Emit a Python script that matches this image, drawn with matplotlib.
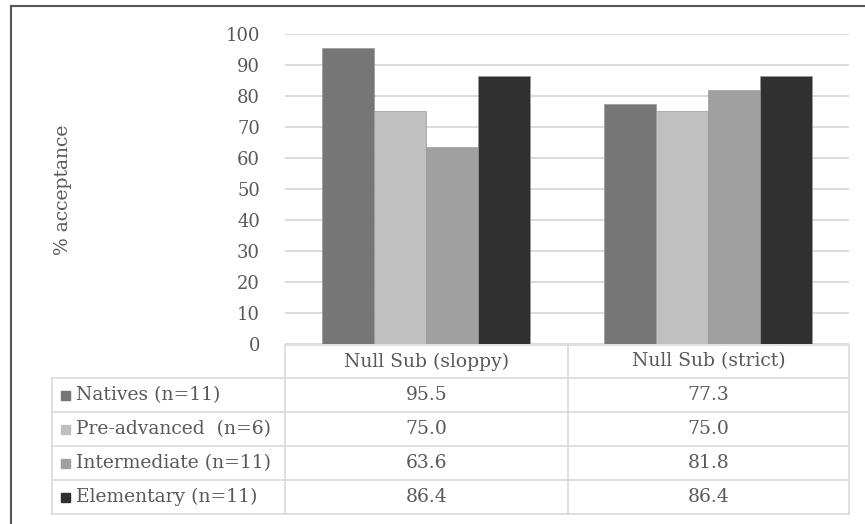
import matplotlib.pyplot as plt
import numpy as np

categories = ['Null Sub (sloppy)', 'Null Sub (strict)']
groups = ['Natives (n=11)', 'Pre-advanced  (n=6)', 'Intermediate (n=11)', 'Elementary (n=11)']
natives = [95.5, 77.3]
pre_advanced = [75.0, 75.0]
intermediate = [63.6, 81.8]
elementary = [86.4, 86.4]
yticks = [0, 10, 20, 30, 40, 50, 60, 70, 80, 90, 100]

series = [natives, pre_advanced, intermediate, elementary]
colors = ['#767676', '#c0c0c0', '#a0a0a0', '#303030']
txt = '#595959'
grid = '#d9d9d9'
W, H = 865, 524
fs = 13.5

plt.rcParams['font.family'] = ['DejaVu Serif']
fig = plt.figure(figsize=(W / 100, H / 100), dpi=100)

# plot area in pixel coords
x0, x1, ytop, ybot = 285, 849, 34, 344
ax = fig.add_axes([x0 / W, (H - ybot) / H, (x1 - x0) / W, (ybot - ytop) / H])
ax.set_xlim(-0.5, len(categories) - 0.5)
ax.set_ylim(0, 100)
bw = 0.735 / len(series)
x = np.arange(len(categories))
for i, (vals, c) in enumerate(zip(series, colors)):
    ax.bar(x + (i - 1.5) * bw, vals, bw, color=c, edgecolor='#999999', linewidth=0.5, zorder=3)
ax.set_yticks(yticks)
ax.set_yticklabels([str(t) for t in yticks], color=txt, fontsize=13)
ax.tick_params(axis='y', length=0, pad=18)
ax.set_xticks([])
ax.grid(axis='y', color=grid, linewidth=1.3, zorder=0)
for s in ax.spines.values():
    s.set_visible(False)

# overlay in pixel coords for table and frame
ov = fig.add_axes([0, 0, 1, 1])
ov.set_xlim(0, W)
ov.set_ylim(H, 0)
ov.axis('off')

ov.plot([11, 11], [6, H], color='#555555', lw=1.5)
ov.plot([11, W], [6, 6], color='#555555', lw=1.5)

ov.text(63, 190, '% acceptance', rotation=90, ha='center', va='center', color=txt, fontsize=fs)

tl, col1, col2 = 52, 285, 568
rows = [345, 378, 412, 446, 480, 514]
lw = 1.2
ov.plot([col1, x1], [rows[0], rows[0]], color=grid, lw=lw)
for r in rows[1:]:
    ov.plot([tl, x1], [r, r], color=grid, lw=lw)
ov.plot([tl, tl], [rows[1], rows[-1]], color=grid, lw=lw)
for cx in [col1, col2, x1]:
    ov.plot([cx, cx], [rows[0], rows[-1]], color=grid, lw=lw)

centers = [(col1 + col2) / 2, (col2 + x1) / 2]
for j, cat in enumerate(categories):
    ov.text(centers[j], (rows[0] + rows[1]) / 2, cat, ha='center', va='center', color=txt, fontsize=fs)
for i, (g, vals, c) in enumerate(zip(groups, series, colors)):
    yc = (rows[i + 1] + rows[i + 2]) / 2
    ov.add_patch(plt.Rectangle((61, yc - 4.5), 9, 9, color=c))
    ov.text(76, yc, g, ha='left', va='center', color=txt, fontsize=fs)
    for j, v in enumerate(vals):
        ov.text(centers[j], yc, f'{v:.1f}', ha='center', va='center', color=txt, fontsize=fs)

fig.savefig('out.png', dpi=100)
